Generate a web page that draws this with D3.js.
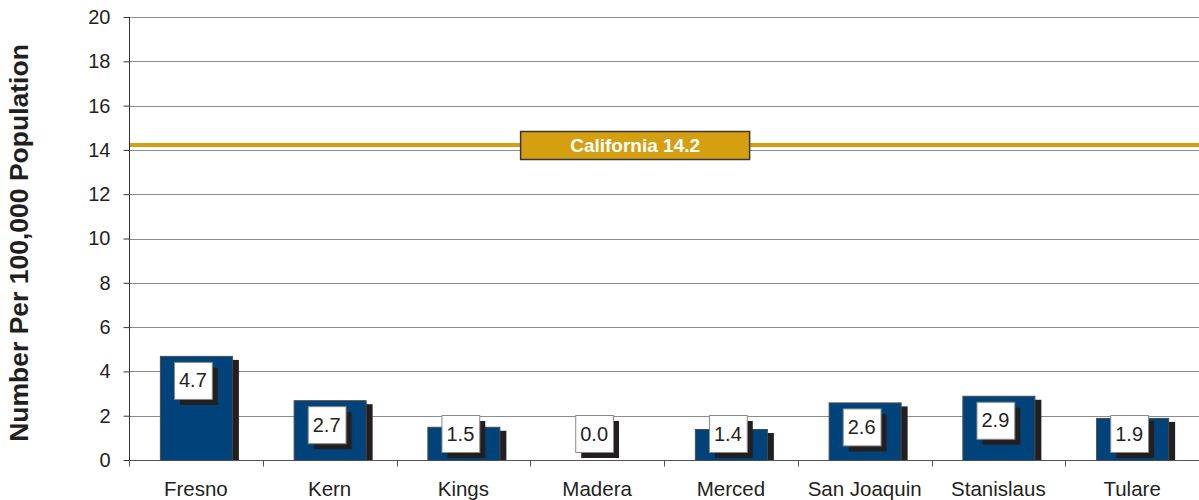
<!DOCTYPE html>
<html>
<head>
<meta charset="utf-8">
<script src="https://cdn.jsdelivr.net/npm/d3@7"></script>
<style>
  html, body { margin: 0; padding: 0; background: #fff; }
  svg { display: block; font-family: Arial, "Liberation Sans", Helvetica, sans-serif; }
</style>
</head>
<body>
<svg id="chart" width="1199" height="500"></svg>
<script>
// County rates per 100,000 population
const counties = ["Fresno", "Kern", "Kings", "Madera", "Merced", "San Joaquin", "Stanislaus", "Tulare"];
const rates = [4.7, 2.7, 1.5, 0.0, 1.4, 2.6, 2.9, 1.9];
const stateName = "California";
const stateRate = 14.2;
const yTicks = [0, 2, 4, 6, 8, 10, 12, 14, 16, 18, 20];
const yTitle = "Number Per 100,000 Population";

const svg = d3.select("#chart");
const plotL = 129, plotR = 1199, plotT = 17, plotB = 460;

const x = d3.scaleBand().domain(counties).range([plotL, plotR]).padding(0);
const y = d3.scaleLinear().domain([0, 20]).range([plotB, plotT]);

const BAR_W = 72;
const ink = "#231f20";

// gridlines
svg.append("g").selectAll("line").data(yTicks.filter(d => d > 0)).join("line")
  .attr("x1", plotL).attr("x2", plotR)
  .attr("y1", d => Math.round(y(d)) + 0.5).attr("y2", d => Math.round(y(d)) + 0.5)
  .attr("stroke", "#8c8c8c").attr("stroke-width", 1);

// state reference line
const yState = Math.round(y(stateRate));
svg.append("line")
  .attr("x1", plotL).attr("x2", plotR)
  .attr("y1", yState).attr("y2", yState)
  .attr("stroke", "#d4a012").attr("stroke-width", 4);

// y axis
const yAxis = d3.axisLeft(y).tickValues(yTicks).tickSize(6).tickPadding(13).tickFormat(d3.format("d"));
const gy = svg.append("g").attr("transform", `translate(${plotL + 0.5},0)`).call(yAxis);
gy.select(".domain").attr("stroke", "#333").attr("d", `M0,${plotT}V${plotB}`);
gy.selectAll(".tick line").attr("stroke", "#333");
gy.selectAll(".tick text").attr("fill", ink).attr("font-size", 20)
  .attr("font-family", "Arial, 'Liberation Sans', sans-serif");

// x axis with ticks at band boundaries
const gx = svg.append("g").attr("transform", `translate(0,${plotB + 0.5})`);
gx.append("line").attr("x1", plotL).attr("x2", plotR).attr("stroke", "#555");
gx.selectAll("line.tk").data(counties.map(c => x(c)).concat([plotR])).join("line")
  .attr("class", "tk")
  .attr("x1", d => Math.round(d) + 0.5).attr("x2", d => Math.round(d) + 0.5)
  .attr("y1", 0).attr("y2", 6).attr("stroke", "#555");
svg.append("g").selectAll("text").data(counties).join("text")
  .attr("x", d => x(d) + x.bandwidth() / 2)
  .attr("y", 496)
  .attr("text-anchor", "middle")
  .attr("font-size", 20.5)
  .attr("fill", ink)
  .text(d => d);

// y title
svg.append("text")
  .attr("transform", `translate(28,243) rotate(-90)`)
  .attr("text-anchor", "middle")
  .attr("font-size", 26.5)
  .attr("font-weight", "bold")
  .attr("fill", ink)
  .text(yTitle);

// bars with drop shadows
const data = counties.map((c, i) => ({ c, v: rates[i] }));
const bars = svg.append("g").selectAll("g").data(data).join("g");
const bx = d => x(d.c) + (x.bandwidth() - BAR_W) / 2;

bars.filter(d => d.v > 0).append("rect")
  .attr("x", d => bx(d) + 7)
  .attr("y", d => y(d.v) + 4)
  .attr("width", BAR_W)
  .attr("height", d => Math.max(0, y(0) - y(d.v) - 4))
  .attr("fill", ink);

bars.filter(d => d.v > 0).append("rect")
  .attr("x", d => bx(d) + 0.5)
  .attr("y", d => y(d.v) + 0.5)
  .attr("width", BAR_W)
  .attr("height", d => y(0) - y(d.v))
  .attr("fill", "#00427a")
  .attr("stroke", "#4a4a4a")
  .attr("stroke-width", 1);

// value labels in boxes with shadows
const BOX_H = 37;
bars.each(function(d) {
  const g = d3.select(this);
  const txt = d3.format(".1f")(d.v);
  const cx = x(d.c) + x.bandwidth() / 2 - 3;
  const boxTop = Math.min(y(d.v) + 6, y(0) - BOX_H - 8);
  const t = g.append("text")
    .attr("font-size", 20).attr("fill", ink)
    .attr("text-anchor", "middle")
    .text(txt);
  const w = t.node().getComputedTextLength() + 10;
  g.insert("rect", "text")
    .attr("x", cx - w / 2 + 6).attr("y", boxTop + 6)
    .attr("width", w).attr("height", BOX_H)
    .attr("fill", ink);
  g.insert("rect", "text")
    .attr("x", cx - w / 2 + 0.5).attr("y", boxTop + 0.5)
    .attr("width", w).attr("height", BOX_H)
    .attr("fill", "#fff").attr("stroke", "#8a8a8a").attr("stroke-width", 1);
  t.attr("x", cx).attr("y", boxTop + BOX_H / 2 + 7);
});

// state label box
const lbx = plotL + (plotR - plotL) * 0.473;
const lb = svg.append("g");
lb.append("rect")
  .attr("x", lbx - 114.5).attr("y", yState - 13.5)
  .attr("width", 229).attr("height", 28)
  .attr("fill", "#d4a012").attr("stroke", "#3a3530").attr("stroke-width", 1.5);
lb.append("text")
  .attr("x", lbx).attr("y", yState + 7)
  .attr("text-anchor", "middle")
  .attr("font-size", 19)
  .attr("font-weight", "bold")
  .attr("fill", "#fff")
  .text(`${stateName} ${stateRate}`);
</script>
</body>
</html>
